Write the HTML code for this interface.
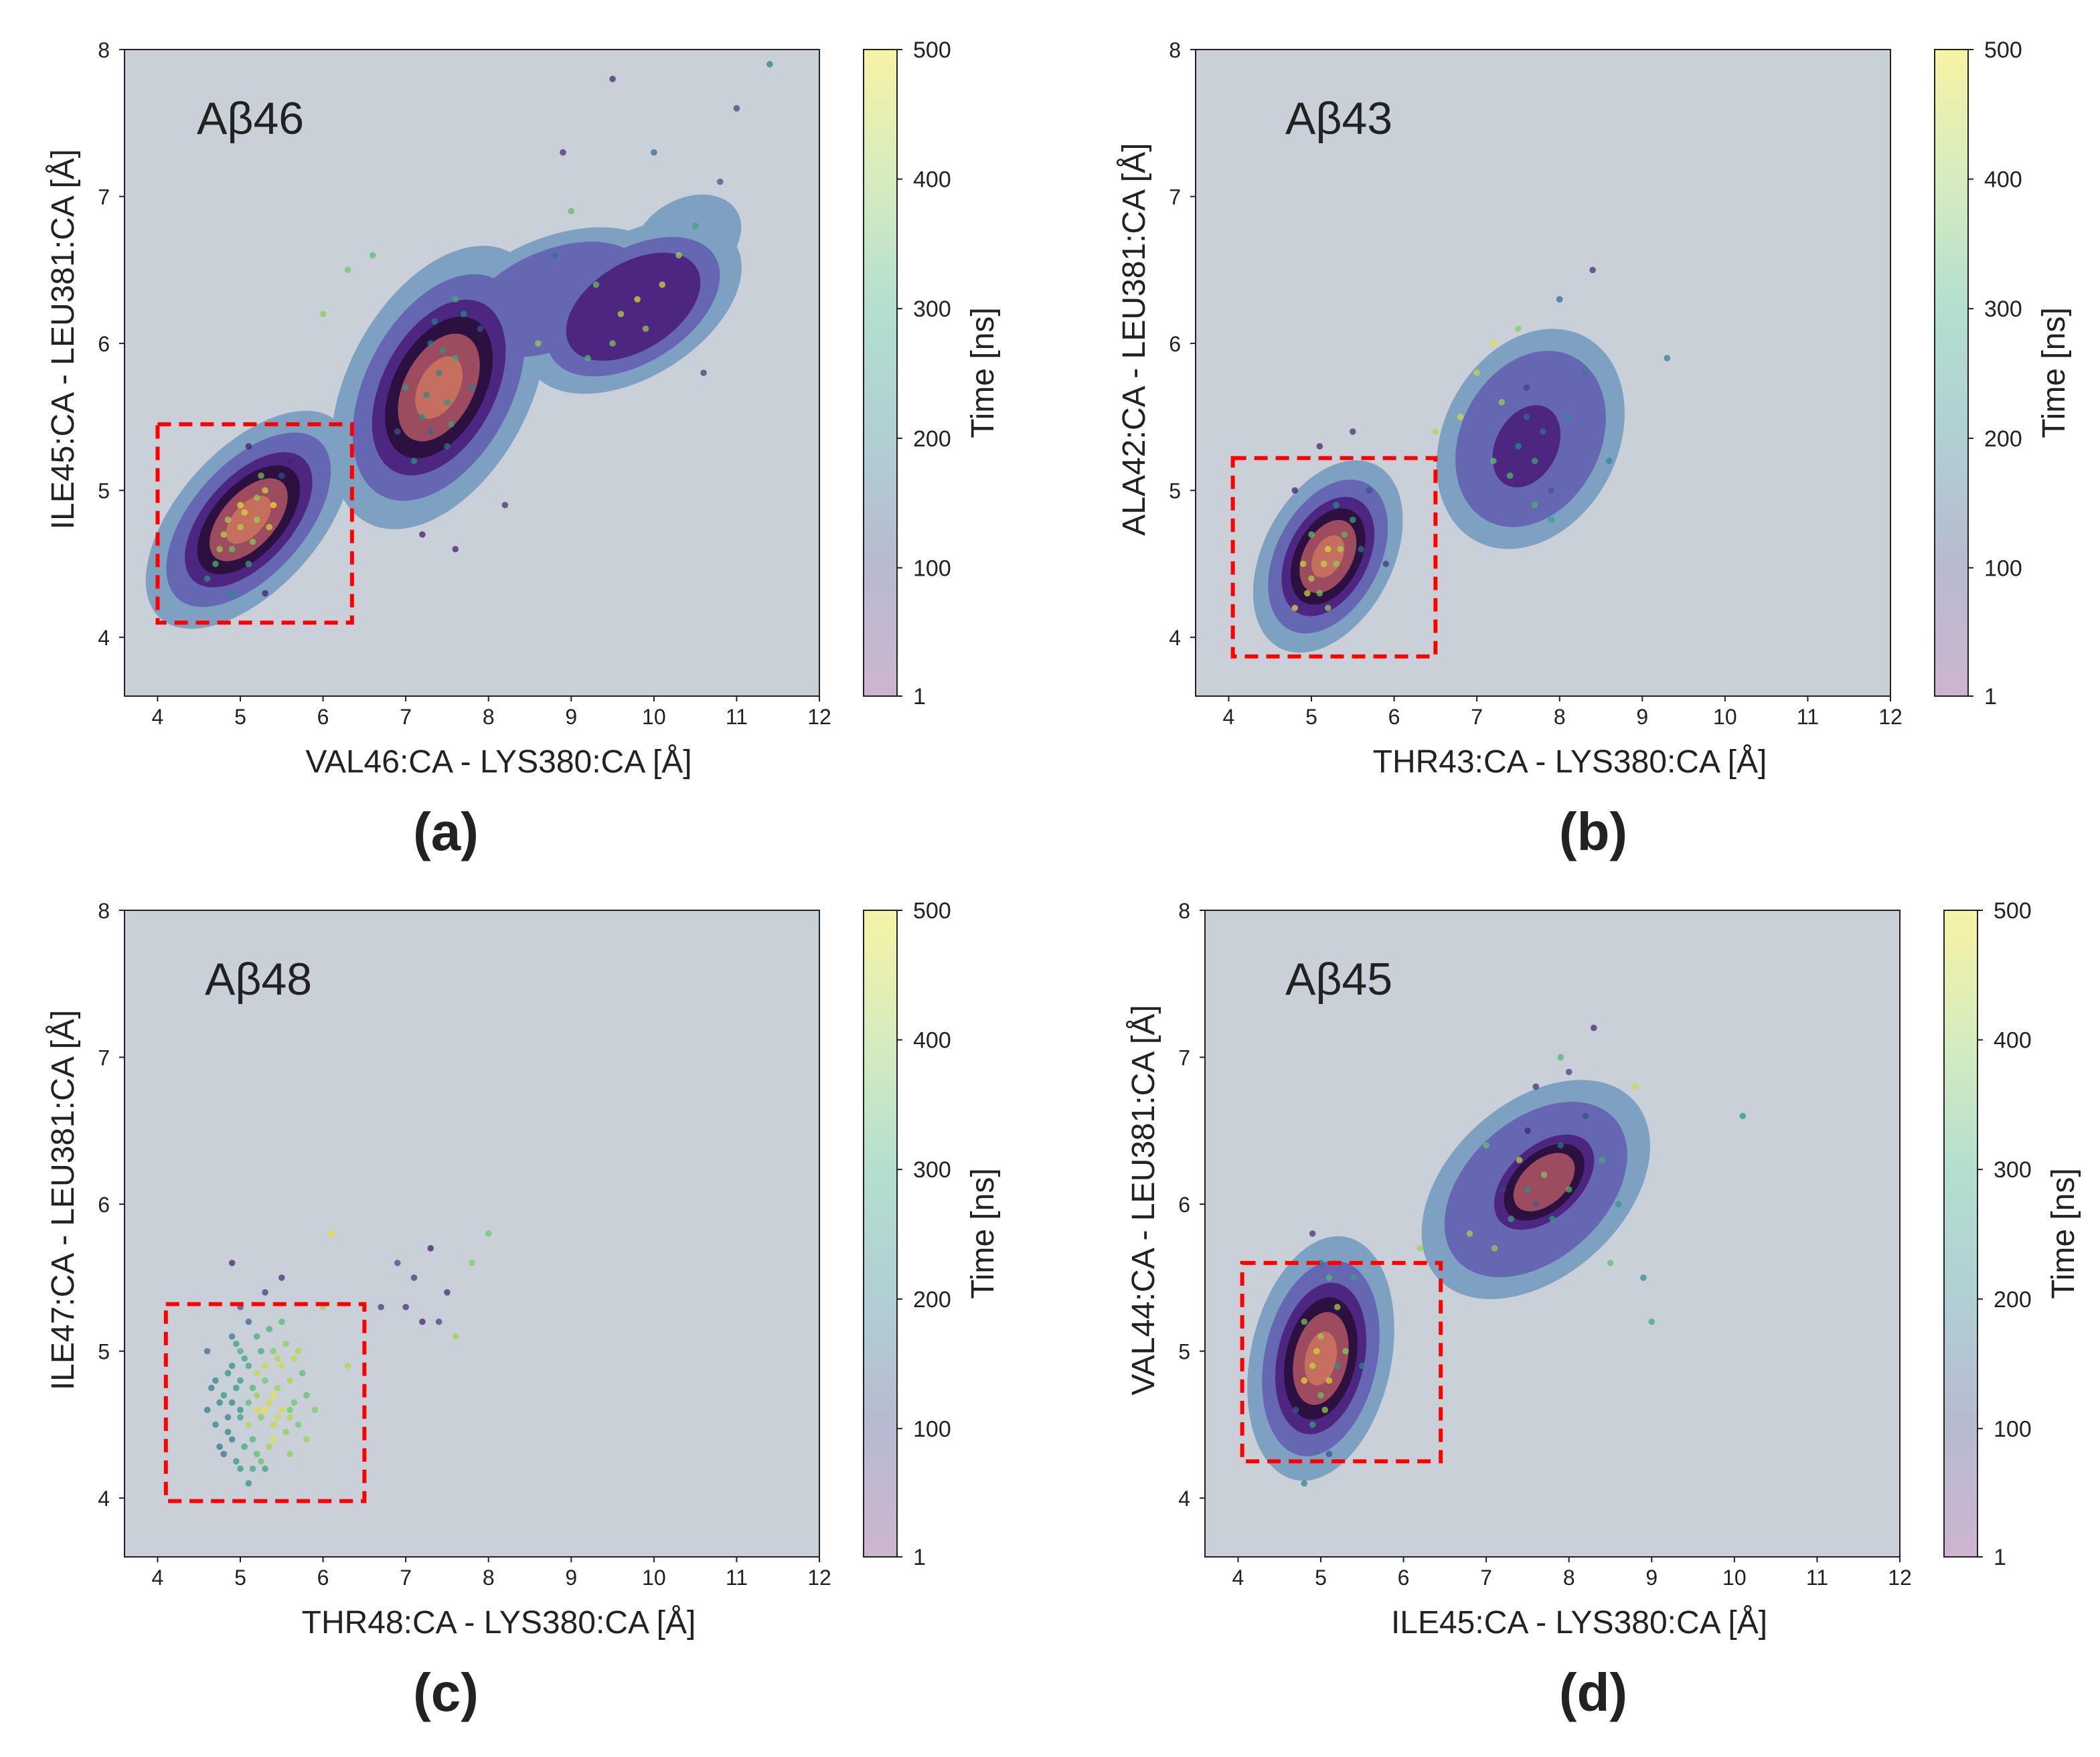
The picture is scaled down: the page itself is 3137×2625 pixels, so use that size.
<!DOCTYPE html>
<html><head><meta charset="utf-8">
<style>
html,body{margin:0;padding:0;background:#fff;}
svg{display:block;}
text{font-family:"Liberation Sans","DejaVu Sans",sans-serif;fill:#222;}
</style></head>
<body>
<svg id="fig" xmlns="http://www.w3.org/2000/svg" width="3137" height="2625" viewBox="0 0 1568.5 1312.5">
<defs>
<linearGradient id="cbgrad" x1="0" y1="1" x2="0" y2="0">
<stop offset="0" stop-color="#cdb5cf"/>
<stop offset="0.2" stop-color="#b7bad0"/>
<stop offset="0.4" stop-color="#b0cfd3"/>
<stop offset="0.6" stop-color="#b4dfcf"/>
<stop offset="0.8" stop-color="#d6ecbf"/>
<stop offset="1" stop-color="#f6f3a4"/>
</linearGradient>
</defs>
</svg>
<script>
const xTicks=[4,5,6,7,8,9,10,11,12];
const yTicks=[4,5,6,7,8];
const cbTicks=[1,100,200,300,400,500];
const levelColors=['#7ea0c1','#6567b3','#4d2682','#2b1040','#9c4c5e','#c66f5f'];
const levelScale=[1,0.8,0.62,0.5,0.38,0.22];
// contour clusters: [cx, cy, a(x-units), b(x-units), angle(deg), levels]
const contA=[[5.1,4.8,1.6,0.85,-48,6],[7.4,5.7,1.85,1.1,-62,6],[8.8,6.3,1.4,0.75,-22,2],[9.75,6.25,1.45,0.85,-32,3],[10.4,6.7,0.7,0.5,-30,1]];
const contB=[[5.2,4.55,1.25,0.78,-62,6],[7.65,5.35,1.4,1.05,-62,2],[7.6,5.3,0.85,0.6,-62,3]];
const contC=[];
const contD=[[5.0,4.95,1.5,0.85,-78,6],[7.6,6.1,1.6,1.05,-42,2],[7.7,6.15,1.15,0.7,-42,5]];
// scatter points [x, y, time]
const ptsA=[[4.8,4.7,450],[5.0,4.9,480],[5.2,4.8,420],[4.9,4.6,380],[5.3,5.0,460],[5.1,4.5,300],[4.7,4.5,350],[5.4,4.9,490],[5.0,4.75,440],[5.2,4.95,410],[4.6,4.4,260],[5.5,5.1,120],[5.6,5.2,60],[5.1,5.3,30],[4.9,4.3,250],[5.3,4.3,40],[5.05,4.85,470],[4.85,4.8,430],[5.15,4.65,400],[5.35,4.75,460],[4.75,4.6,420],[5.25,5.1,390],
[7.2,5.5,250],[7.4,5.8,230],[7.5,5.6,270],[7.3,6.0,220],[7.6,5.9,300],[7.1,5.2,260],[7.7,6.2,240],[7.5,5.3,200],[7.0,5.7,280],[7.8,5.7,210],[7.3,5.4,180],[7.6,6.3,320],[6.9,5.4,150],[7.9,6.1,140],[7.45,5.95,260],[7.25,5.65,240],[7.55,5.45,290],[7.35,6.15,210],
[9.6,6.2,450],[9.8,6.3,480],[9.9,6.1,420],[9.5,6.0,400],[10.1,6.4,470],[9.3,6.4,380],[10.3,6.6,440],[9.2,5.9,360],[10.5,6.8,300],[8.8,6.6,200],[8.6,6.0,420],[9.0,6.9,350],[10.8,7.1,120],[10.0,7.3,160],[11.0,7.6,90],[8.9,7.3,60],[9.5,7.8,40],[11.4,7.9,200],[10.6,5.8,70],[6.3,6.5,380],[6.0,6.2,400],[6.6,6.6,350],[8.2,4.9,60],[7.6,4.6,40],[7.2,4.7,30]];
const ptsB=[[5.0,4.4,440],[5.2,4.6,470],[5.3,4.5,410],[5.1,4.3,390],[4.9,4.5,460],[5.4,4.7,350],[5.2,4.2,420],[5.5,4.8,300],[4.8,4.2,480],[5.3,4.9,250],[5.6,4.6,200],[5.0,4.7,380],[5.7,5.0,120],[5.5,5.4,60],[5.1,5.3,40],[4.8,5.0,30],[5.9,4.5,80],[5.15,4.5,450],[5.35,4.6,430],[4.95,4.3,470],
[7.5,5.3,250],[7.7,5.2,300],[7.6,5.5,180],[7.4,5.1,350],[7.8,5.4,200],[7.3,5.6,420],[7.9,5.0,150],[7.6,5.7,100],[7.2,5.2,380],[8.1,5.5,260],[7.7,4.9,330],[7.0,5.8,450],[8.3,5.8,220],[7.5,6.1,400],[8.0,6.3,160],[6.8,5.5,470],[8.6,5.2,240],[7.9,4.8,290],[9.3,5.9,210],[8.4,6.5,60],[6.5,5.4,440],[7.2,6.0,480]];
const ptsC=[[5.0,4.6,250],[5.2,4.7,420],[5.4,4.5,450],[5.1,4.9,300],[5.3,4.8,380],[4.9,4.4,200],[5.5,4.6,470],[5.2,4.3,350],[5.6,4.8,430],[4.8,4.7,260],[5.0,5.0,320],[5.3,4.2,280],[5.4,5.0,400],[4.7,4.5,220],[5.1,4.5,440],[5.5,4.9,460],[4.9,4.9,240],[5.2,5.1,310],[5.7,4.5,390],[4.8,4.3,180],[5.6,4.3,410],[5.0,4.2,270],[5.3,4.6,490],[4.7,4.8,230],[5.8,4.7,360],[5.1,5.2,150],[5.4,4.4,480],[4.9,5.1,200],[5.5,5.2,340],[4.6,4.6,190],[5.2,4.85,450],[5.0,4.55,290],[5.35,4.65,470],[5.15,4.4,330],[5.45,4.75,420],[4.95,4.75,260],[5.6,4.6,380],[5.25,5.0,300],[4.85,4.55,210],[5.1,4.1,250],[5.7,5.0,440],[5.9,4.6,400],[4.6,5.0,170],[5.0,5.3,120],[5.3,5.4,80],[5.5,5.5,60],[4.9,5.6,40],[6.1,5.8,480],[6.0,5.3,420],[6.3,4.9,440],
[4.75,4.65,230],[4.85,4.85,250],[4.95,5.05,280],[5.05,4.35,300],[5.15,4.75,330],[5.25,4.55,400],[5.35,4.35,430],[5.45,4.55,460],[5.55,4.45,410],[5.65,4.65,380],[5.75,4.85,350],[5.45,4.95,440],[5.25,4.25,370],[5.05,4.95,290],[4.85,4.45,210],[4.75,4.35,190],[4.65,4.75,200],[4.95,4.25,260],[5.15,4.2,300],[5.35,5.15,320],[5.55,5.05,410],[5.65,4.95,450],[5.8,4.4,420],[5.0,4.8,270],[5.3,4.9,460],[5.4,4.7,490],[5.2,4.6,470],[5.1,4.65,350],[4.9,4.65,230],[5.6,4.55,440],
[6.7,5.3,80],[7.0,5.3,60],[7.2,5.2,40],[7.1,5.5,70],[7.4,5.2,90],[7.5,5.4,50],[6.9,5.6,100],[7.3,5.7,30],[7.6,5.1,420],[7.8,5.6,400],[8.0,5.8,380]];
const ptsD=[[4.9,4.9,450],[5.0,5.1,420],[5.1,4.8,470],[4.8,5.2,400],[5.0,4.7,380],[5.2,5.3,440],[4.9,4.5,300],[5.1,5.5,350],[4.8,4.8,480],[5.2,4.9,260],[5.0,5.6,200],[4.7,4.6,150],[5.3,5.0,410],[5.1,4.3,120],[4.9,5.8,60],[5.5,4.9,250],[4.8,4.1,220],[5.4,5.5,300],[4.95,5.0,460],[5.05,4.6,430],
[7.5,6.1,250],[7.7,6.2,400],[7.3,5.9,300],[7.9,6.4,200],[7.6,6.0,150],[7.4,6.3,450],[8.0,6.1,350],[7.2,6.1,100],[7.8,5.9,280],[7.5,6.5,50],[8.2,6.6,120],[7.1,5.7,420],[8.4,6.3,320],[7.6,6.8,60],[8.0,6.9,80],[8.3,7.2,40],[7.0,6.4,380],[8.6,6.0,270],[8.5,5.6,360],[8.9,5.5,240],[9.0,5.2,300],[6.8,5.8,440],[10.1,6.6,250],[6.2,5.7,420],[8.8,6.8,460],[7.9,7.0,330]];

const NS='http://www.w3.org/2000/svg';
const svg=document.getElementById('fig');
function mk(tag,attrs,parent){const e=document.createElementNS(NS,tag);for(const k in attrs)e.setAttribute(k,attrs[k]);(parent||svg).appendChild(e);return e;}
function viridis(t){
  const s=[[68,1,84],[59,82,139],[33,145,140],[94,201,98],[253,231,37]];
  const u=Math.max(0,Math.min(1,(t-1)/499))*4;const i=Math.min(3,Math.floor(u));const f=u-i;
  const c=s[i].map((v,k)=>Math.round(v+(s[i+1][k]-v)*f));return 'rgb('+c.join(',')+')';
}
const panels=[
 {id:'a',x0:93,x1:612,y0:37,y1:520,cb:645,lx:333,title:'Aβ46',tx:147,xl:'VAL46:CA - LYS380:CA   [Å]',yl:'ILE45:CA - LEU381:CA  [Å]',box:[4.0,6.35,4.1,5.45],cont:contA,pts:ptsA},
 {id:'b',x0:893,x1:1412,y0:37,y1:520,cb:1445,lx:1190,title:'Aβ43',tx:960,xl:'THR43:CA - LYS380:CA   [Å]',yl:'ALA42:CA - LEU381:CA  [Å]',box:[4.05,6.5,3.87,5.22],cont:contB,pts:ptsB},
 {id:'c',x0:93,x1:612,y0:680,y1:1163,cb:645,lx:333,title:'Aβ48',tx:153,xl:'THR48:CA - LYS380:CA   [Å]',yl:'ILE47:CA - LEU381:CA  [Å]',box:[4.1,6.5,3.98,5.32],cont:contC,pts:ptsC},
 {id:'d',x0:900,x1:1419,y0:680,y1:1163,cb:1452,lx:1190,title:'Aβ45',tx:960,xl:'ILE45:CA - LYS380:CA   [Å]',yl:'VAL44:CA - LEU381:CA  [Å]',box:[4.05,6.45,4.25,5.6],cont:contD,pts:ptsD}
];
panels.forEach(p=>{
  const g=mk('g',{});
  
  
  const sx=v=>p.x0+(v-3.6)/(12-3.6)*(p.x1-p.x0);
  const sy=v=>p.y1-(v-3.6)/(8-3.6)*(p.y1-p.y0);
  const kx=(p.x1-p.x0)/8.4;
  const clipId='clip'+p.id;
  const cp=mk('clipPath',{id:clipId},g);mk('rect',{x:p.x0,y:p.y0,width:p.x1-p.x0,height:p.y1-p.y0},cp);
  const bg=mk('rect',{x:p.x0,y:p.y0,width:p.x1-p.x0,height:p.y1-p.y0,fill:'#c9d0d8'},g);
  
  
  const cg=mk('g',{'clip-path':'url(#'+clipId+')'},g);
  
  
  for(let L=0;L<6;L++){
    p.cont.forEach(c=>{
      if(L>=c[5])return;
      const e=mk('ellipse',{cx:sx(c[0]),cy:sy(c[1]),rx:c[2]*kx*levelScale[L],ry:c[3]*kx*levelScale[L],fill:levelColors[L],transform:'rotate('+c[4]+' '+sx(c[0])+' '+sy(c[1])+')'},cg);
      
      
    });
  }
  const pg=mk('g',{'clip-path':'url(#'+clipId+')'},g);
  p.pts.forEach(q=>{
    const c=mk('circle',{cx:sx(q[0]),cy:sy(q[1]),r:2.4,fill:viridis(q[2]),'fill-opacity':0.7},pg);
    
    
  });
  const fr=mk('rect',{x:p.x0,y:p.y0,width:p.x1-p.x0,height:p.y1-p.y0,fill:'none',stroke:'#222','stroke-width':1},g);
  
  
  const bx=mk('rect',{x:sx(p.box[0]),y:sy(p.box[3]),width:sx(p.box[1])-sx(p.box[0]),height:sy(p.box[2])-sy(p.box[3]),fill:'none',stroke:'#ff0000','stroke-width':3,'stroke-dasharray':'10,6'},g);
  
  
  xTicks.forEach(v=>{
    mk('line',{x1:sx(v),x2:sx(v),y1:p.y1,y2:p.y1+4,stroke:'#222'},g);
    const t=mk('text',{x:sx(v),y:p.y1+21,'text-anchor':'middle','font-size':16},g);t.textContent=v;
    
    
  });
  yTicks.forEach(v=>{
    mk('line',{x1:p.x0-4,x2:p.x0,y1:sy(v),y2:sy(v),stroke:'#222'},g);
    const t=mk('text',{x:p.x0-11,y:sy(v)+6,'text-anchor':'end','font-size':16},g);t.textContent=v;
    
    
  });
  const tt=mk('text',{x:p.tx,y:p.y0+63,'font-size':34},g);tt.textContent=p.title;
  
  
  const xl=mk('text',{x:(p.x0+p.x1)/2+20,y:p.y1+57,'text-anchor':'middle','font-size':24},g);xl.textContent=p.xl;
  
  
  const ycx=p.x0-38, ycy=(p.y0+p.y1)/2-25;
  const yl=mk('text',{x:ycx,y:ycy,'text-anchor':'middle','font-size':24,transform:'rotate(-90 '+ycx+' '+ycy+')'},g);yl.textContent=p.yl;
  
  
  const cbr=mk('rect',{x:p.cb,y:p.y0,width:25,height:p.y1-p.y0,fill:'url(#cbgrad)',stroke:'#222','stroke-width':1},g);
  
  
  cbTicks.forEach(v=>{
    const yy=p.y1-(v-1)/499*(p.y1-p.y0);
    mk('line',{x1:p.cb+25,x2:p.cb+29,y1:yy,y2:yy,stroke:'#222'},g);
    const t=mk('text',{x:p.cb+37,y:yy+6,'font-size':17},g);t.textContent=v;
    
    
  });
  const lx=p.cb+97, ly=(p.y0+p.y1)/2;
  const cl=mk('text',{x:lx,y:ly,'text-anchor':'middle','font-size':24,transform:'rotate(-90 '+lx+' '+ly+')'},g);cl.textContent='Time [ns]';
  
  
  const pl=mk('text',{x:p.lx,y:p.y1+115,'text-anchor':'middle','font-size':40,'font-weight':'bold'},g);pl.textContent='('+p.id+')';
  
  
});
</script>
</body></html>
